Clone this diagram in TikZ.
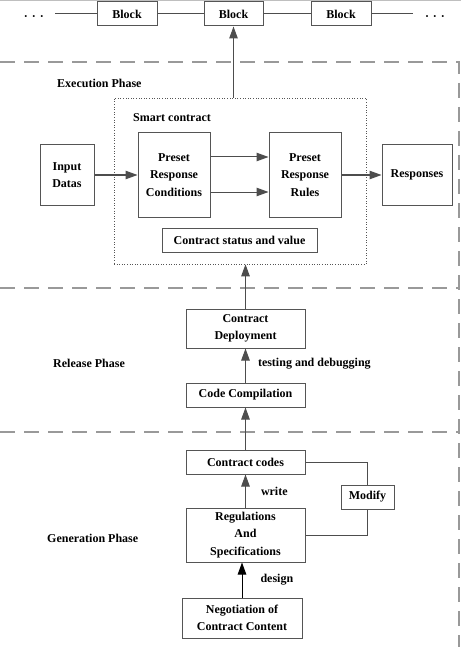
\documentclass[tikz,border=0pt]{standalone}
\usepackage{fontspec}
\setmainfont{Liberation Serif}
\usetikzlibrary{arrows.meta}
\definecolor{boxgray}{HTML}{555555}
\definecolor{linegray}{HTML}{4D4D4D}
\definecolor{dashgray}{HTML}{999999}
\begin{document}
\begin{tikzpicture}[x=1pt,y=-1pt,
  box/.style={draw=boxgray, line width=1pt, fill=white, font=\bfseries\fontsize{12}{17.5}\selectfont, align=center, inner sep=0pt},
  arr/.style={draw=linegray, line width=1pt, -{Triangle[length=12pt,width=8.5pt]}},
  plain/.style={draw=linegray, line width=1pt},
  phase/.style={draw=dashgray, line width=1.3pt, dash pattern=on 15pt off 9pt},
  lbl/.style={font=\bfseries\fontsize{12}{14}\selectfont, anchor=west, inner sep=0pt}]
\useasboundingbox (0,0) rectangle (461,647);
\draw[gray!50, line width=1pt] (0,0.5) -- (461,0.5);
% blockchain
\node[box, minimum width=60pt, minimum height=24pt] (b1) at (127,14) {Block};
\node[box, minimum width=59pt, minimum height=24pt] (b2) at (233.5,14) {Block};
\node[box, minimum width=60pt, minimum height=24pt] (b3) at (341,14) {Block};
\node[font=\bfseries\fontsize{12}{14}\selectfont, inner sep=0pt] (dl) at (34,18) {·\,\,·\,\,·};
\node[font=\bfseries\fontsize{12}{14}\selectfont, inner sep=0pt] (dr) at (435,18) {·\,\,·\,\,·};
\coordinate (cl) at (55,14);
\coordinate (cr) at (413,14);
\draw[plain] (cl) -- (b1);
\draw[plain] (b1) -- (b2);
\draw[plain] (b2) -- (b3);
\draw[plain] (b3) -- (cr);
% phase separators
\draw[phase] (0,62) -- (459,62) -- (459,647);
\draw[phase] (0,288) -- (459,288);
\draw[phase] (0,432) -- (459,432);
% execution phase
\node[lbl] (ep) at (57,83) {Execution Phase};
\node[draw=boxgray, line width=0.6pt, dotted, minimum width=252pt, minimum height=166pt, inner sep=0pt] (sc) at (240,181) {};
\node[lbl] (sct) at (133,118) {Smart contract};
\node[box, minimum width=54pt, minimum height=60pt] (in) at (67,175) {Input\\Datas};
\node[box, minimum width=72pt, minimum height=84pt] (prc) at (174,175) {Preset\\Response\\Conditions};
\node[box, minimum width=72pt, minimum height=84pt] (prr) at (305,175) {Preset\\Response\\Rules};
\node[box, minimum width=70pt, minimum height=60pt] (resp) at (417,175) {Responses};
\node[box, minimum width=155pt, minimum height=24pt] (csv) at (239.5,240) {Contract status and value};
\draw[arr] (in) -- (prc);
\draw[arr] ([yshift=18pt]prc.east) -- ([yshift=18pt]prr.west);
\draw[arr] ([yshift=-17pt]prc.east) -- ([yshift=-17pt]prr.west);
\draw[arr] (prr) -- (resp);
\draw[arr] (sc.north -| b2.south) -- (b2.south);
% release phase
\node[lbl] (rp) at (53,363) {Release Phase};
\node[box, minimum width=119pt, minimum height=39pt] (cd) at (245.5,328.5) {Contract\\Deployment};
\node[box, minimum width=119pt, minimum height=24pt] (cc) at (245.5,395) {Code Compilation};
\draw[arr] (cc) -- (cd) node[lbl, pos=0.55, xshift=12pt] {testing and debugging};
\draw[arr] (cd.north) -- (cd.north |- sc.south);
% generation phase
\node[lbl] (gp) at (47,538) {Generation Phase};
\node[box, minimum width=119pt, minimum height=24pt] (ccodes) at (245.5,462) {Contract codes};
\node[box, minimum width=119pt, minimum height=54pt] (reg) at (245.5,535) {Regulations\\And\\Specifications};
\node[box, minimum width=53pt, minimum height=24pt] (mod) at (367.5,497) {Modify};
\node[box, minimum width=120pt, minimum height=40pt] (neg) at (242,618) {Negotiation of\\Contract Content};
\draw[arr] (ccodes) -- (cc);
\draw[arr] (reg) -- (ccodes) node[lbl, pos=0.5, xshift=15pt] {write};
\draw[arr, draw=black] (neg.north) -- (neg.north |- reg.south) node[lbl, pos=0.5, xshift=18pt] {design};
\draw[plain] (ccodes.east) -| (mod.north);
\draw[plain] (mod.south) |- (reg.east);
\end{tikzpicture}
\end{document}
